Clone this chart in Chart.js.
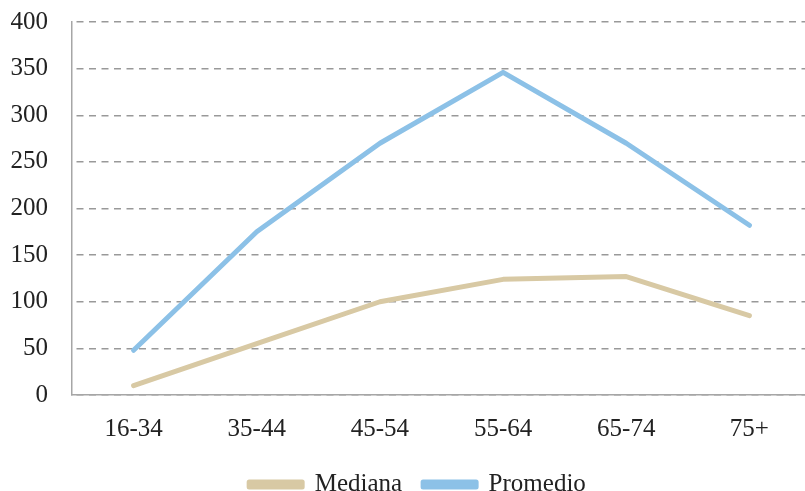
<!DOCTYPE html>
<html>
<head>
<meta charset="utf-8">
<script src="https://cdn.jsdelivr.net/npm/chart.js@4/dist/chart.umd.min.js"></script>
<style>
  html, body { margin: 0; padding: 0; background: #fff; overflow: hidden; }
  #wrap { width: 812px; height: 507px; }
</style>
</head>
<body>
<div id="wrap"><canvas id="chart" width="812" height="507"></canvas></div>
<script>
// Age groups along the x axis
const categories = ['16-34', '35-44', '45-54', '55-64', '65-74', '75+'];
// Median value per age group
const mediana = [10, 55, 100, 124, 127, 85];
// Mean value per age group
const promedio = [48, 175, 270, 346, 270, 182];
// Y axis range and step
const yMin = 0, yMax = 400, yStep = 50;

const serif = "'Liberation Serif', 'Times New Roman', serif";
const textColor = '#222';

// Nudge the legend row a little to the right of the canvas centre
const legendShift = {
  id: 'legendShift',
  afterLayout(chart) {
    const lg = chart.legend;
    if (lg) { lg.left += 12; lg.right += 12; }
  }
};

new Chart(document.getElementById('chart'), {
  type: 'line',
  data: {
    labels: categories,
    datasets: [
      {
        label: 'Mediana',
        data: mediana,
        borderColor: '#D8C9A4',
        backgroundColor: '#D8C9A4',
        borderWidth: 5,
        pointRadius: 0,
        borderCapStyle: 'round',
        borderJoinStyle: 'round',
        tension: 0
      },
      {
        label: 'Promedio',
        data: promedio,
        borderColor: '#8CC1E7',
        backgroundColor: '#8CC1E7',
        borderWidth: 5,
        pointRadius: 0,
        borderCapStyle: 'round',
        borderJoinStyle: 'round',
        tension: 0
      }
    ]
  },
  plugins: [legendShift],
  options: {
    responsive: false,
    animation: false,
    devicePixelRatio: 1,
    layout: { padding: { left: 0, right: 1, top: 22, bottom: 0 } },
    plugins: {
      tooltip: { enabled: false },
      legend: {
        position: 'bottom',
        labels: {
          font: { family: serif, size: 25 },
          color: textColor,
          boxWidth: 53,
          boxHeight: 5,
          padding: 21
        }
      }
    },
    scales: {
      x: {
        offset: true,
        afterFit: (scale) => {
          scale.height = 56;
          scale.paddingLeft = 0;
          scale.paddingRight = 0;
        },
        grid: { display: false, drawTicks: false },
        border: { display: true, color: '#A6A6A6', width: 1.5 },
        ticks: {
          font: { family: serif, size: 25 },
          color: textColor,
          padding: 19,
          maxRotation: 0
        }
      },
      y: {
        min: yMin,
        max: yMax,
        afterFit: (scale) => {
          scale.width = 72;
          scale.paddingTop = 0;
          scale.paddingBottom = 0;
        },
        ticks: {
          stepSize: yStep,
          font: { family: serif, size: 25 },
          color: textColor,
          padding: 24
        },
        grid: {
          color: '#999',
          lineWidth: 1.5,
          drawTicks: false
        },
        border: { display: true, color: '#A6A6A6', width: 1.5, dash: [7, 5.5], dashOffset: -4 }
      }
    }
  }
});
</script>
</body>
</html>
